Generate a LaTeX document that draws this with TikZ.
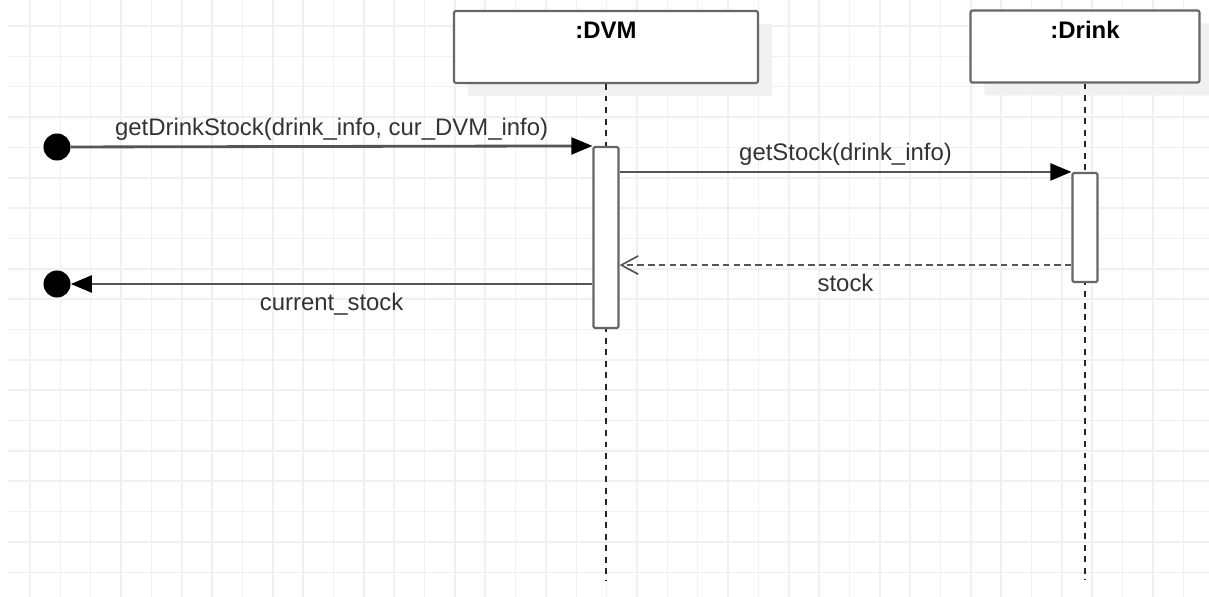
\documentclass[tikz,border=0pt]{standalone}
\usepackage{fontspec}
\setmainfont{Liberation Sans}
\usetikzlibrary{arrows.meta,positioning,calc,shadows}
\definecolor{gridgray}{HTML}{F0F0F0}
\definecolor{linegray}{HTML}{555555}
\definecolor{boxgray}{HTML}{666666}
\definecolor{textgray}{HTML}{333333}

\begin{document}
\begin{tikzpicture}
[x=0.025cm,y=-0.025cm,
 every node/.style={font=\fontsize{17}{20}\selectfont,text=textgray},
 gridline/.style={draw=gridgray,line width=1.1pt},
 obj/.style={rectangle,draw=boxgray,fill=white,line width=1.5pt,rounded corners=1.5pt,minimum height=1.8cm,
   drop shadow={shadow xshift=0.35cm,shadow yshift=-0.32cm,fill=gridgray,opacity=1}},
 objname/.style={font=\bfseries\fontsize{17}{20}\selectfont,text=black},
 bar/.style={rectangle,draw=boxgray,fill=white,line width=1.5pt,rounded corners=1pt,minimum width=0.625cm,inner sep=0pt},
 dot/.style={circle,fill=black,inner sep=0pt,minimum size=0.675cm},
 lifeline/.style={draw=black!85,line width=1.3pt,dash pattern=on 4.2pt off 4pt},
 msg/.style={draw=linegray,line width=2pt,-{Triangle[length=15pt,width=12pt,color=black]}},
 reply/.style={draw=linegray,line width=1.8pt,dash pattern=on 4.6pt off 3pt,
   -{Straight Barb[length=12pt,width=13pt,line width=1.2pt]}},
 lbelow/.style={below,yshift=-2pt}]
\useasboundingbox (0,0) rectangle (1209,597);
\fill[white] (0,0) rectangle (1209,597);
% grid
\foreach \i in {0,...,38} \draw[gridline] (30+30.35*\i,0) -- ++(0,597);
\foreach \j in {0,...,18} \draw[gridline] (8,26+30.35*\j) -- (1209,26+30.35*\j);
% objects and lifelines
\node[obj,minimum width=7.6cm] (dvm) at (606,47) {};
\node[obj,minimum width=5.725cm] (drink) at (1085,46.5) {};
\node[objname,below=5pt] at (dvm.north) {:DVM};
\node[objname,below=5pt] at (drink.north) {:Drink};
\coordinate (dvmend) at (606,580);
\coordinate (drinkend) at (1085,580);
\draw[lifeline] (dvm.south) -- (dvmend);
\draw[lifeline] (drink.south) -- (drinkend);
\node[bar,minimum height=4.525cm] (dvmbar) at (606,237.5) {};
\node[bar,minimum height=2.725cm] (drinkbar) at (1085,227.5) {};
% messages
\node[dot] (found) at (57,147) {};
\node[dot] (lost) at (57,284) {};
\draw[msg] (found) -- node[above] {getDrinkStock(drink\_info, cur\_DVM\_info)} (dvmbar.north west);
\draw[msg] (dvmbar.east |- drinkbar.north) -- node[above] {getStock(drink\_info)} (drinkbar.north west);
\coordinate (ret) at ($(drinkbar.south west)+(0,-18)$);
\draw[reply] (ret) -- node[lbelow] {stock} (ret -| dvmbar.east);
\draw[msg] (lost -| dvmbar.west) -- node[lbelow] {current\_stock} (lost);
\end{tikzpicture}
\end{document}
